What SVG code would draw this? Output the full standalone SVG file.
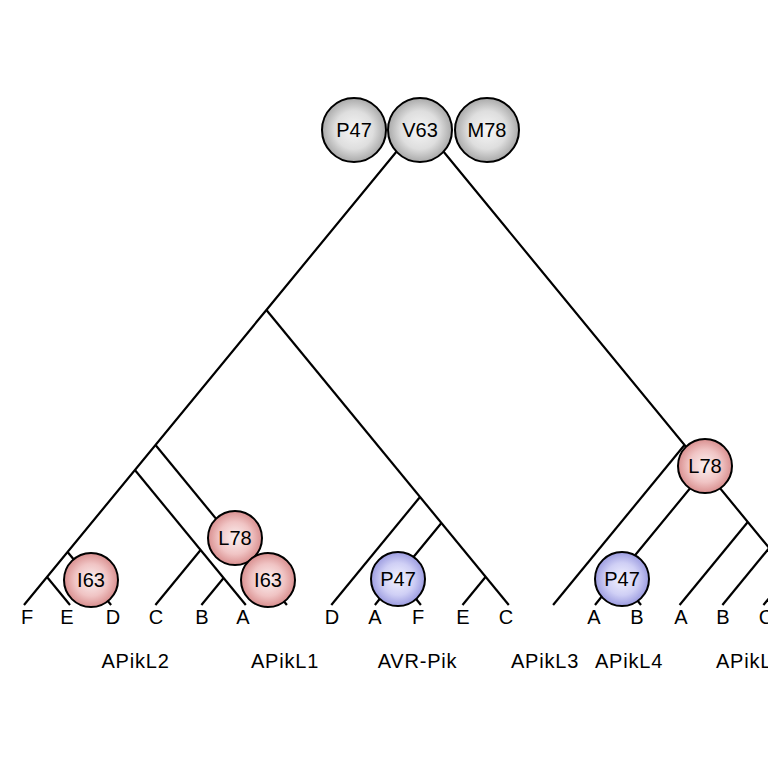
<svg xmlns="http://www.w3.org/2000/svg" width="768" height="768" viewBox="0 0 768 768">
<defs>
<radialGradient id="gGray" cx="50%" cy="50%" r="50%">
<stop offset="0" stop-color="#f6f6f6"/>
<stop offset="0.6" stop-color="#dedede"/>
<stop offset="1" stop-color="#a9a9a9"/>
</radialGradient>
<radialGradient id="gRed" cx="50%" cy="50%" r="50%">
<stop offset="0" stop-color="#fbf1f1"/>
<stop offset="0.6" stop-color="#f0c4c4"/>
<stop offset="1" stop-color="#d98f8f"/>
</radialGradient>
<radialGradient id="gBlue" cx="50%" cy="50%" r="50%">
<stop offset="0" stop-color="#f3f3ff"/>
<stop offset="0.6" stop-color="#cfcff5"/>
<stop offset="1" stop-color="#9c9ce0"/>
</radialGradient>
</defs>
<style>
.br{fill:none;stroke:#000;stroke-width:2.2;stroke-linecap:butt}
.c{stroke:#000;stroke-width:2}
.gray{fill:url(#gGray)}
.red{fill:url(#gRed)}
.blue{fill:url(#gBlue)}
text{font-family:"Liberation Sans",Arial,Helvetica,sans-serif;font-size:20px;fill:#000;text-anchor:middle}
.grp{letter-spacing:0.8px}
</style>
<rect width="768" height="768" fill="#fff"/>
<g id="connectors">
<polyline class="br" points="24,605 266.4,310 420,123 816,605"/>
<line class="br" x1="155.5" y1="445" x2="286.9" y2="605"/>
<line class="br" x1="134.9" y1="470" x2="245.8" y2="605"/>
<line class="br" x1="200.6" y1="550" x2="155.4" y2="605"/>
<line class="br" x1="223.6" y1="578" x2="201.4" y2="605"/>
<line class="br" x1="67.6" y1="552" x2="111.1" y2="605"/>
<line class="br" x1="47" y1="577" x2="70" y2="605"/>
<line class="br" x1="266.4" y1="310" x2="508.8" y2="605"/>
<line class="br" x1="420" y1="497" x2="331.3" y2="605"/>
<polyline class="br" points="441.4,523 397.9,576 374.9,605"/>
<line class="br" x1="397.9" y1="576" x2="420.9" y2="605"/>
<line class="br" x1="485.5" y1="577" x2="462.5" y2="605"/>
<line class="br" x1="684.5" y1="445" x2="553.1" y2="605"/>
<polyline class="br" points="705.1,470 618,576 595,605"/>
<line class="br" x1="618" y1="576" x2="641" y2="605"/>
<line class="br" x1="747.8" y1="522" x2="679.6" y2="605"/>
<line class="br" x1="769.2" y1="548" x2="722.4" y2="605"/>
<line class="br" x1="789.7" y1="573" x2="763.4" y2="605"/>
</g>
<g id="node-P47-top"><circle class="c gray" cx="354" cy="130" r="32"/><text x="354" y="137">P47</text></g>
<g id="node-M78-top"><circle class="c gray" cx="487" cy="130" r="32"/><text x="487" y="137">M78</text></g>
<g id="node-V63-top"><circle class="c gray" cx="420" cy="130" r="32"/><text x="420" y="137">V63</text></g>
<g id="node-I63-L2"><circle class="c red" cx="91" cy="580" r="27"/><text x="91" y="587">I63</text></g>
<g id="node-L78-L1"><circle class="c red" cx="235" cy="538" r="27"/><text x="235" y="545">L78</text></g>
<g id="node-I63-L1"><circle class="c red" cx="268" cy="580" r="27"/><text x="268" y="587">I63</text></g>
<g id="node-P47-AVR"><circle class="c blue" cx="398" cy="579" r="27"/><text x="398" y="586">P47</text></g>
<g id="node-P47-L4"><circle class="c blue" cx="622" cy="579" r="27"/><text x="622" y="586">P47</text></g>
<g id="node-L78-R"><circle class="c red" cx="705" cy="466" r="27"/><text x="705" y="473">L78</text></g>
<g id="leaf-labels">
<text x="27" y="624">F</text>
<text x="67" y="624">E</text>
<text x="113" y="624">D</text>
<text x="156" y="624">C</text>
<text x="202" y="624">B</text>
<text x="243" y="624">A</text>
<text x="332" y="624">D</text>
<text x="375" y="624">A</text>
<text x="418" y="624">F</text>
<text x="463" y="624">E</text>
<text x="506" y="624">C</text>
<text x="594" y="624">A</text>
<text x="637" y="624">B</text>
<text x="681" y="624">A</text>
<text x="723" y="624">B</text>
<text x="766" y="624">C</text>
</g>
<g id="group-labels">
<text class="grp" x="135.5" y="668">APikL2</text>
<text class="grp" x="285" y="668">APikL1</text>
<text class="grp" x="417.5" y="668">AVR-Pik</text>
<text class="grp" x="545" y="668">APikL3</text>
<text class="grp" x="629" y="668">APikL4</text>
<text class="grp" x="750" y="668">APikL5</text>
</g>
</svg>
